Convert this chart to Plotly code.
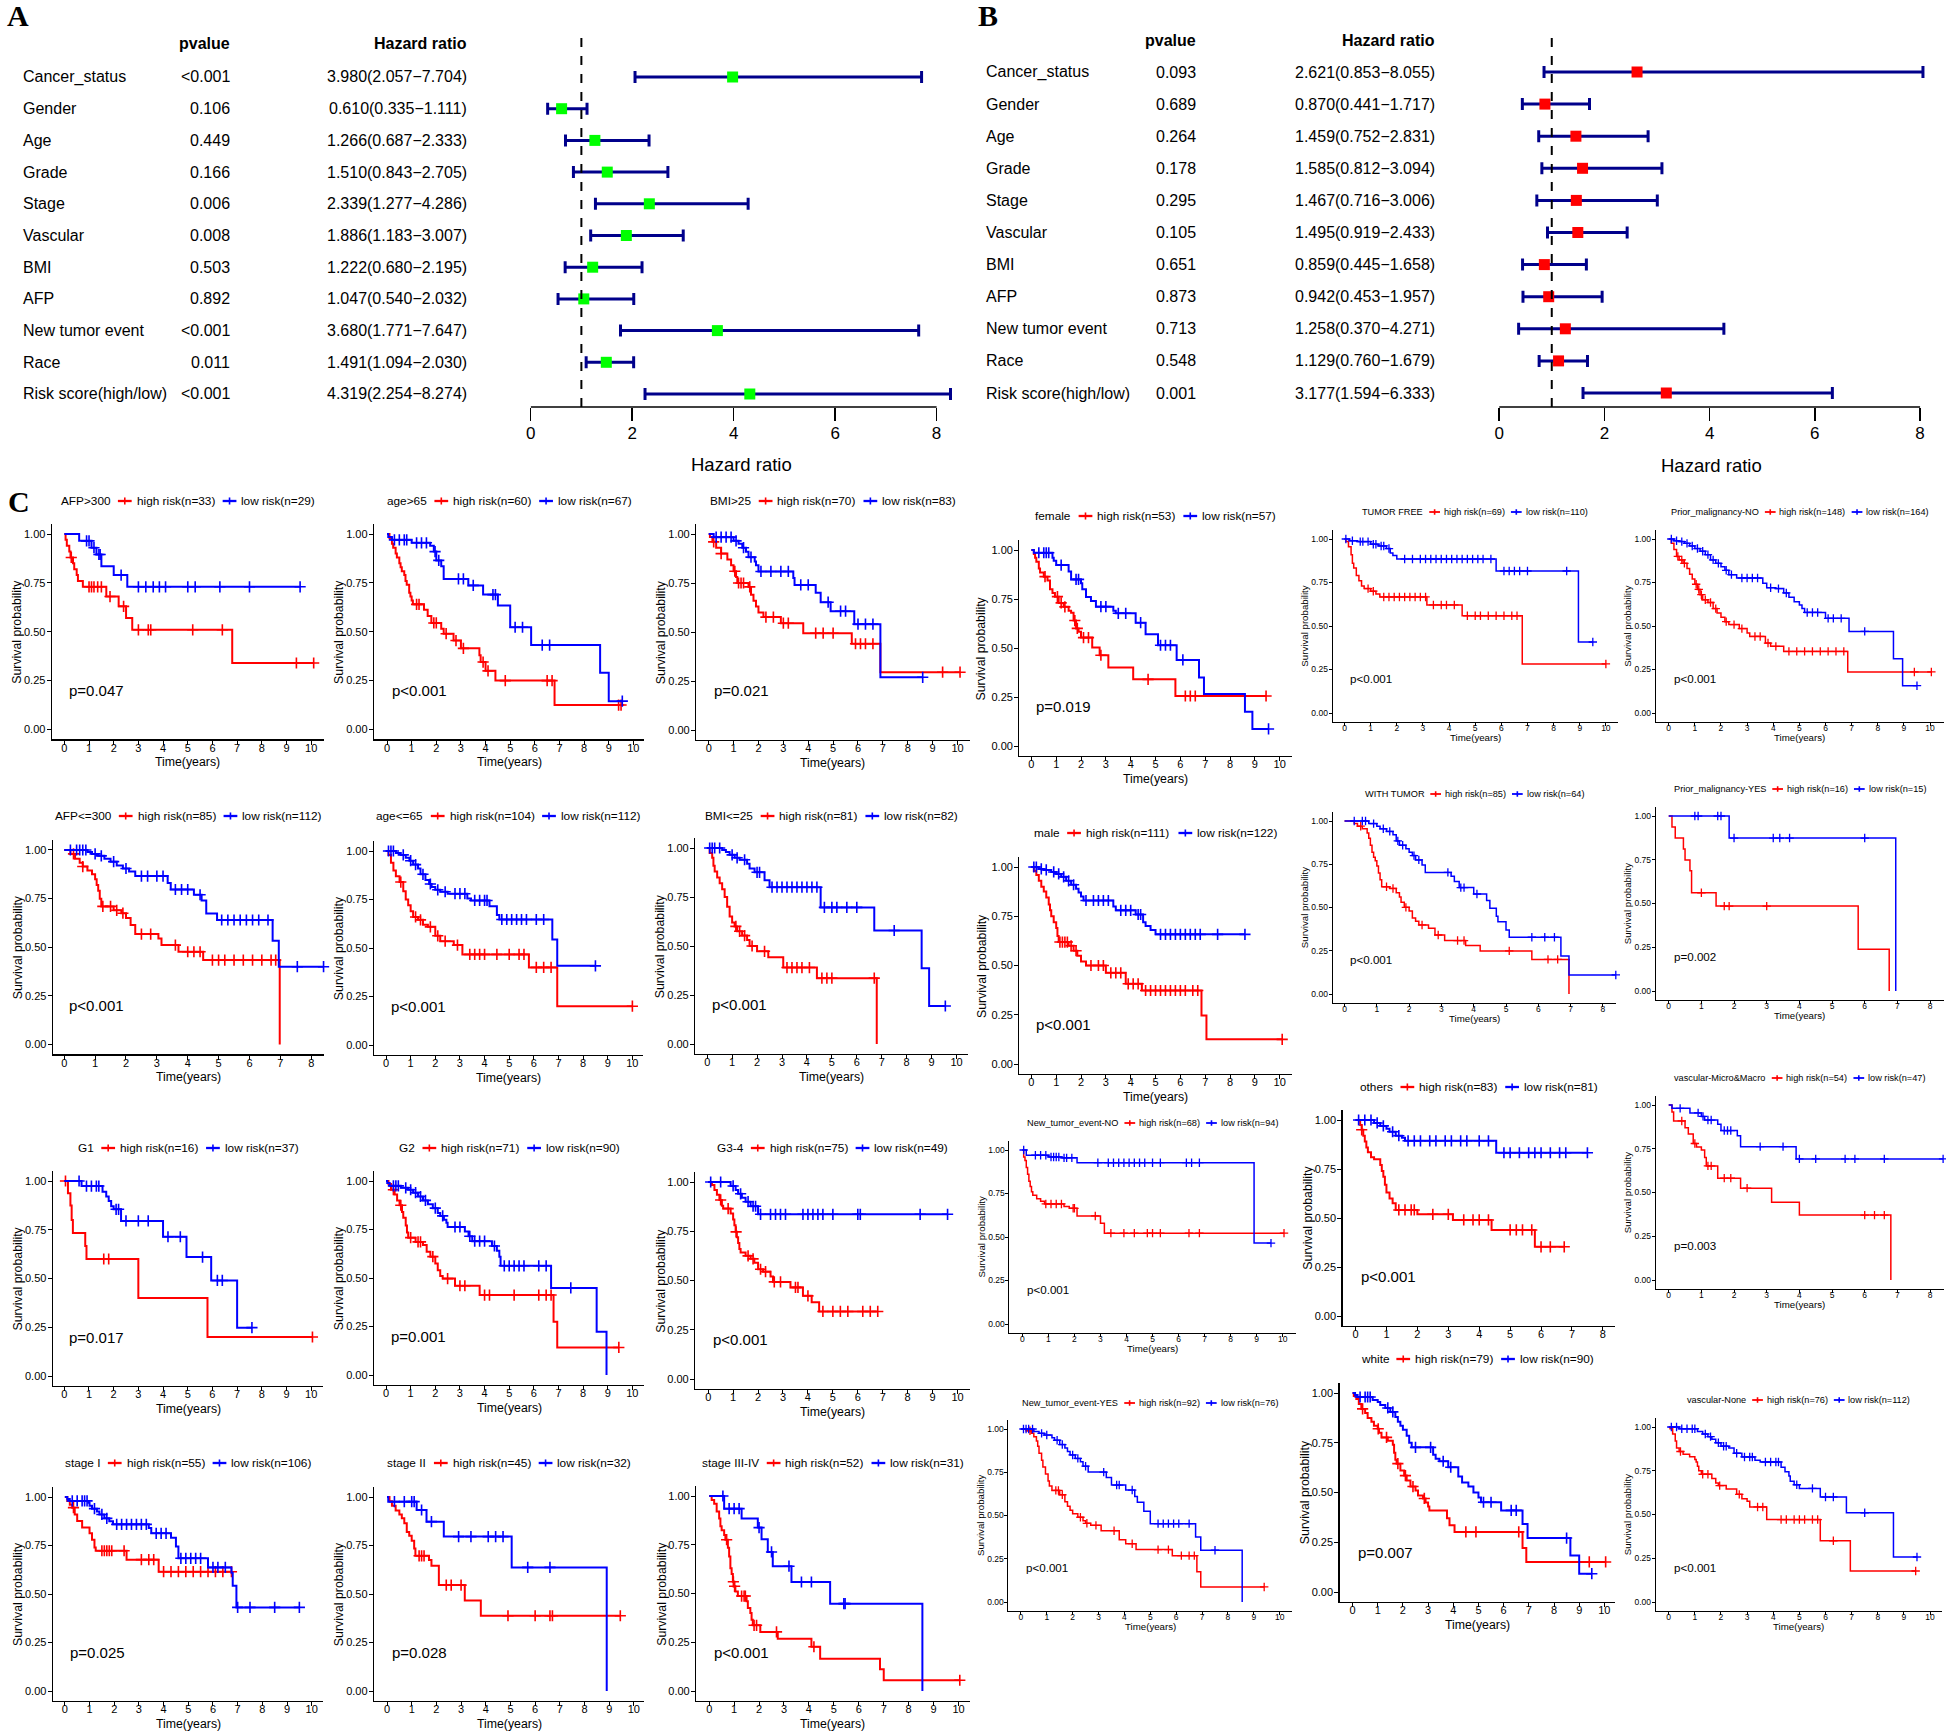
import plotly.graph_objects as go

W, H = 1946, 1732
SANS = "Liberation Sans, Arial, Helvetica, sans-serif"
SERIF = "Liberation Serif, Times New Roman, Times, serif"
RED = "#FF0000"
BLUE = "#0000FF"
NAVY = "#00008B"
GREEN = "#00FF00"

# ---------------- Forest plot data ----------------
FOREST_VARS = ["Cancer_status", "Gender", "Age", "Grade", "Stage", "Vascular", "BMI", "AFP",
               "New tumor event", "Race", "Risk score(high/low)"]
A_PVAL = ["<0.001", "0.106", "0.449", "0.166", "0.006", "0.008", "0.503", "0.892", "<0.001", "0.011", "<0.001"]
A_HR = [3.980, 0.610, 1.266, 1.510, 2.339, 1.886, 1.222, 1.047, 3.680, 1.491, 4.319]
A_LO = [2.057, 0.335, 0.687, 0.843, 1.277, 1.183, 0.680, 0.540, 1.771, 1.094, 2.254]
A_HI = [7.704, 1.111, 2.333, 2.705, 4.286, 3.007, 2.195, 2.032, 7.647, 2.030, 8.274]
B_PVAL = ["0.093", "0.689", "0.264", "0.178", "0.295", "0.105", "0.651", "0.873", "0.713", "0.548", "0.001"]
B_HR = [2.621, 0.870, 1.459, 1.585, 1.467, 1.495, 0.859, 0.942, 1.258, 1.129, 3.177]
B_LO = [0.853, 0.441, 0.752, 0.812, 0.716, 0.919, 0.445, 0.453, 0.370, 0.760, 1.594]
B_HI = [8.055, 1.717, 2.831, 3.094, 3.006, 2.433, 1.658, 1.957, 4.271, 1.679, 6.333]
FOREST_TICKS = [0, 2, 4, 6, 8]
PANEL_LABELS = ["A", "B", "C"]

# ---------------- Kaplan-Meier data ----------------
KM_TITLES = ["AFP>300", "age>65", "BMI>25", "AFP<=300", "age<=65", "BMI<=25", "G1", "G2", "G3-4",
             "stage I", "stage II", "stage III-IV", "female", "male", "New_tumor_event-NO",
             "New_tumor_event-YES", "TUMOR FREE", "WITH TUMOR", "others", "white",
             "Prior_malignancy-NO", "Prior_malignancy-YES", "vascular-Micro&Macro", "vascular-None"]
KM_N_HIGH = [33, 60, 70, 85, 104, 81, 16, 71, 75, 55, 45, 52, 53, 111, 68, 92, 69, 85, 83, 79, 148, 16, 54, 76]
KM_N_LOW = [29, 67, 83, 112, 112, 82, 37, 90, 49, 106, 32, 31, 57, 122, 94, 76, 110, 64, 81, 90, 164, 15, 47, 112]
KM_PVALS = ["p=0.047", "p<0.001", "p=0.021", "p<0.001", "p<0.001", "p<0.001", "p=0.017", "p=0.001",
            "p<0.001", "p=0.025", "p=0.028", "p<0.001", "p=0.019", "p<0.001", "p<0.001", "p<0.001",
            "p<0.001", "p<0.001", "p<0.001", "p=0.007", "p<0.001", "p=0.002", "p=0.003", "p<0.001"]
KM_TICK_MAX = [10, 10, 10, 8, 10, 10, 10, 10, 10, 10, 10, 10, 10, 10, 10, 10, 10, 8, 8, 10, 10, 8, 8, 10]
# the "others" panel's x-axis title is hidden under the "white" panel in the reference
KM_SHOW_XTITLE = [True] * 18 + [False] + [True] * 5
Y_TICKS = [0, 0.25, 0.5, 0.75, 1.0]
Y_TICK_TEXT = ["0.00", "0.25", "0.50", "0.75", "1.00"]

# (time, survival after the drop) ; censor times
AFP_GT300_HI = [(0.05, 0.97), (0.1, 0.94), (0.2, 0.91), (0.25, 0.88), (0.35, 0.85), (0.4, 0.82), (0.5, 0.79),
                (0.55, 0.76), (0.75, 0.73), (1.7, 0.68), (2.2, 0.63), (2.5, 0.57), (2.75, 0.51), (6.8, 0.34)]
AFP_GT300_HI_CENS = [0.28, 1.0, 1.1, 1.2, 1.35, 1.5, 1.85, 2.4, 3.0, 3.4, 3.5, 5.2, 6.4, 9.4, 10.1]
AFP_GT300_LO = [(0.6, 0.965), (1.1, 0.93), (1.3, 0.895), (1.5, 0.835), (2.0, 0.79), (2.55, 0.73)]
AFP_GT300_LO_CENS = [0.9, 1.0, 1.2, 1.4, 1.45, 2.3, 3.0, 3.3, 3.6, 3.85, 4.1, 5.0, 5.3, 6.3, 7.5, 9.55]

AGE_GT65_HI = [(0.1, 0.98), (0.2, 0.95), (0.25, 0.93), (0.35, 0.9), (0.4, 0.88), (0.5, 0.85), (0.55, 0.83),
               (0.6, 0.81), (0.7, 0.79), (0.75, 0.76), (0.8, 0.74), (0.9, 0.70), (0.95, 0.68), (1.0, 0.66),
               (1.05, 0.64), (1.5, 0.612), (1.65, 0.58), (1.8, 0.545), (2.2, 0.515), (2.3, 0.49), (2.7, 0.455),
               (3.0, 0.415), (3.75, 0.38), (3.8, 0.345), (4.0, 0.30), (4.4, 0.25), (6.8, 0.125)]
AGE_GT65_HI_CENS = [1.2, 1.3, 1.9, 2.0, 2.4, 2.8, 3.1, 3.9, 4.1, 4.8, 6.5, 6.7, 9.4, 9.5]
AGE_GT65_LO = [(0.05, 0.985), (0.2, 0.97), (1.0, 0.955), (1.75, 0.94), (1.9, 0.91), (2.0, 0.865), (2.2, 0.835),
               (2.3, 0.77), (3.3, 0.737), (3.9, 0.69), (4.5, 0.634), (5.0, 0.523), (5.85, 0.432), (8.65, 0.29),
               (9.0, 0.145)]
AGE_GT65_LO_CENS = [0.3, 0.5, 0.7, 0.8, 1.2, 1.4, 1.6, 1.95, 2.1, 2.9, 3.1, 3.5, 4.3, 4.4, 5.2, 5.5, 6.3, 6.6, 9.55]

BMI_GT25_HI = [(0.05, 0.985), (0.15, 0.96), (0.3, 0.93), (0.5, 0.90), (0.75, 0.87), (0.9, 0.84), (1.0, 0.81),
               (1.1, 0.78), (1.15, 0.75), (1.6, 0.73), (1.7, 0.69), (1.8, 0.66), (1.9, 0.63), (2.0, 0.60),
               (2.2, 0.576), (2.9, 0.545), (3.8, 0.494), (5.75, 0.44), (6.9, 0.295)]
BMI_GT25_HI_CENS = [0.2, 0.5, 1.05, 1.2, 1.3, 1.4, 1.65, 2.3, 2.6, 3.0, 3.2, 4.3, 4.6, 5.0, 5.9, 6.1, 6.3, 6.6,
                    9.4, 10.1]
BMI_GT25_LO = [(0.2, 0.984), (1.0, 0.965), (1.2, 0.95), (1.35, 0.93), (1.5, 0.91), (1.6, 0.882), (1.85, 0.86),
               (1.9, 0.84), (2.0, 0.809), (3.4, 0.775), (3.45, 0.74), (4.3, 0.70), (4.5, 0.652), (4.9, 0.606),
               (5.85, 0.54), (6.9, 0.269)]
BMI_GT25_LO_CENS = [0.3, 0.5, 0.7, 0.9, 1.1, 1.4, 1.7, 2.1, 2.5, 2.9, 3.2, 3.7, 4.0, 4.8, 5.3, 5.5, 6.0, 6.3,
                    6.6, 8.6]

AFP_LE300_HI = [(0.2, 0.98), (0.35, 0.955), (0.5, 0.935), (0.6, 0.915), (0.75, 0.895), (0.9, 0.875), (1.0, 0.85),
                (1.05, 0.82), (1.1, 0.79), (1.15, 0.75), (1.2, 0.71), (1.6, 0.69), (1.85, 0.675), (2.0, 0.65),
                (2.15, 0.615), (2.3, 0.568), (3.05, 0.545), (3.15, 0.511), (3.7, 0.477), (4.5, 0.434),
                (6.98, 0.0)]
AFP_LE300_HI_CENS = [0.3, 0.6, 1.25, 1.5, 1.7, 1.9, 2.5, 2.8, 3.6, 4.0, 4.2, 4.4, 4.8, 5.0, 5.2, 5.5, 5.8, 6.1,
                     6.4, 6.7, 6.85]
AFP_LE300_LO = [(0.75, 0.99), (0.9, 0.98), (1.1, 0.97), (1.3, 0.955), (1.5, 0.94), (1.7, 0.92), (1.9, 0.905),
                (2.1, 0.89), (2.3, 0.866), (3.35, 0.83), (3.45, 0.797), (4.2, 0.77), (4.45, 0.74), (4.6, 0.674),
                (4.95, 0.64), (6.75, 0.533), (6.95, 0.40)]
AFP_LE300_LO_CENS = [0.2, 0.4, 0.5, 0.6, 0.7, 1.0, 1.2, 1.6, 2.0, 2.5, 2.7, 3.0, 3.2, 3.6, 3.8, 4.0, 4.4, 5.1,
                     5.3, 5.5, 5.7, 5.9, 6.1, 6.3, 6.6, 7.55, 8.4]

AGE_LE65_HI = [(0.1, 0.98), (0.2, 0.94), (0.3, 0.9), (0.4, 0.87), (0.55, 0.84), (0.7, 0.792), (0.8, 0.75),
               (0.9, 0.72), (1.0, 0.69), (1.1, 0.66), (1.3, 0.645), (1.5, 0.62), (1.7, 0.609), (2.0, 0.563),
               (2.2, 0.535), (2.75, 0.515), (3.1, 0.467), (5.8, 0.40), (6.95, 0.20)]
AGE_LE65_HI_CENS = [0.6, 1.2, 1.4, 1.8, 2.1, 2.4, 2.9, 3.4, 3.6, 3.8, 4.0, 4.5, 5.0, 5.4, 5.6, 6.1, 6.4, 6.7, 10.0]
AGE_LE65_LO = [(0.4, 0.99), (0.6, 0.98), (0.8, 0.965), (0.95, 0.95), (1.1, 0.93), (1.3, 0.91), (1.4, 0.88),
               (1.6, 0.85), (1.75, 0.83), (1.85, 0.815), (2.0, 0.80), (2.2, 0.79), (2.5, 0.78), (3.3, 0.755),
               (3.45, 0.745), (4.2, 0.715), (4.5, 0.67), (4.6, 0.647), (6.75, 0.544), (6.95, 0.408)]
AGE_LE65_LO_CENS = [0.1, 0.2, 0.3, 0.7, 1.0, 1.2, 1.5, 1.8, 2.1, 2.4, 2.8, 3.0, 3.2, 3.6, 3.8, 4.0, 4.1, 4.7,
                    4.9, 5.1, 5.3, 5.5, 5.7, 6.1, 6.4, 8.5]

BMI_LE25_HI = [(0.1, 0.975), (0.2, 0.95), (0.25, 0.91), (0.3, 0.88), (0.4, 0.85), (0.5, 0.82), (0.6, 0.79),
               (0.7, 0.75), (0.8, 0.70), (0.9, 0.65), (1.0, 0.62), (1.1, 0.60), (1.2, 0.575), (1.4, 0.553),
               (1.6, 0.53), (1.7, 0.50), (2.0, 0.473), (2.45, 0.443), (3.05, 0.39), (4.4, 0.336), (6.8, 0.0)]
BMI_LE25_HI_CENS = [1.15, 1.3, 1.5, 1.8, 2.3, 3.2, 3.4, 3.6, 3.8, 4.1, 4.6, 4.8, 5.0, 6.7]
BMI_LE25_LO = [(0.6, 0.99), (0.75, 0.98), (0.9, 0.965), (1.1, 0.95), (1.3, 0.94), (1.6, 0.92), (1.7, 0.895),
               (1.9, 0.876), (2.3, 0.835), (2.5, 0.80), (4.55, 0.697), (6.7, 0.579), (8.6, 0.387), (8.9, 0.194)]
BMI_LE25_LO_CENS = [0.1, 0.2, 0.3, 0.5, 1.0, 1.2, 1.5, 2.0, 2.1, 2.6, 2.8, 3.0, 3.2, 3.4, 3.6, 3.8, 4.0, 4.2,
                    4.4, 4.7, 5.0, 5.2, 5.6, 6.0, 7.5, 9.55]

G1_HI = [(0.15, 0.9375), (0.25, 0.875), (0.3, 0.80), (0.35, 0.733), (0.85, 0.667), (0.9, 0.60), (3.0, 0.40),
         (5.8, 0.20)]
G1_HI_CENS = [0.05, 1.6, 1.8, 10.05]
G1_LO = [(0.7, 0.974), (1.55, 0.945), (1.7, 0.92), (1.8, 0.897), (1.9, 0.87), (2.0, 0.855), (2.3, 0.795),
         (4.0, 0.714), (4.95, 0.61), (5.95, 0.49), (7.0, 0.248)]
G1_LO_CENS = [0.6, 0.9, 1.1, 1.3, 1.4, 2.1, 2.2, 2.5, 3.0, 3.4, 4.2, 4.7, 5.6, 6.2, 6.4, 7.6]

G2_HI = [(0.1, 0.985), (0.2, 0.955), (0.35, 0.93), (0.45, 0.90), (0.55, 0.875), (0.65, 0.84), (0.7, 0.81),
         (0.8, 0.77), (0.85, 0.735), (0.9, 0.708), (1.2, 0.686), (1.5, 0.67), (1.65, 0.635), (1.8, 0.61),
         (2.0, 0.575), (2.1, 0.54), (2.2, 0.51), (2.3, 0.497), (2.8, 0.46), (3.8, 0.412), (6.8, 0.274),
         (6.95, 0.142)]
G2_HI_CENS = [0.3, 0.6, 1.0, 1.3, 1.4, 1.9, 2.5, 3.0, 3.2, 4.0, 4.2, 5.2, 6.2, 6.5, 6.7, 9.45]
G2_LO = [(0.05, 0.99), (0.15, 0.975), (0.6, 0.965), (0.9, 0.955), (1.1, 0.94), (1.3, 0.92), (1.5, 0.90),
         (1.7, 0.88), (1.9, 0.86), (2.1, 0.835), (2.2, 0.82), (2.35, 0.80), (2.45, 0.785), (2.5, 0.763),
         (3.2, 0.74), (3.35, 0.715), (3.5, 0.69), (4.3, 0.665), (4.5, 0.64), (4.6, 0.61), (4.65, 0.563),
         (6.7, 0.449), (8.55, 0.223), (8.95, 0.0)]
G2_LO_CENS = [0.3, 0.4, 0.5, 0.8, 1.0, 1.2, 1.4, 1.6, 2.0, 2.3, 2.8, 3.0, 3.4, 3.6, 3.8, 4.0, 4.4, 4.8, 5.0,
              5.2, 5.4, 5.6, 6.2, 6.5, 7.5]

G34_HI = [(0.15, 0.985), (0.25, 0.96), (0.35, 0.935), (0.45, 0.909), (0.55, 0.88), (0.6, 0.865), (0.9, 0.84),
          (1.0, 0.81), (1.05, 0.78), (1.1, 0.747), (1.15, 0.72), (1.2, 0.69), (1.25, 0.66), (1.3, 0.642),
          (1.5, 0.625), (1.7, 0.61), (1.85, 0.59), (2.0, 0.557), (2.2, 0.545), (2.5, 0.52), (2.6, 0.493),
          (3.3, 0.465), (3.8, 0.422), (4.15, 0.389), (4.45, 0.343)]
G34_HI_CENS = [0.5, 0.8, 1.12, 1.6, 1.8, 2.1, 2.3, 2.65, 2.9, 3.5, 3.6, 4.0, 4.6, 5.0, 5.3, 5.6, 6.2, 6.5, 6.8]
G34_LO = [(0.9, 0.98), (1.1, 0.96), (1.2, 0.94), (1.35, 0.92), (1.5, 0.90), (1.7, 0.877), (2.0, 0.836)]
G34_LO_CENS = [0.1, 0.5, 1.0, 1.3, 1.6, 1.8, 1.9, 2.1, 2.5, 2.7, 2.9, 3.1, 3.8, 4.0, 4.2, 4.4, 4.6, 5.0, 6.0,
               6.1, 8.5, 9.6]

STAGE1_HI = [(0.1, 0.98), (0.2, 0.96), (0.3, 0.945), (0.4, 0.91), (0.5, 0.876), (0.7, 0.843), (1.0, 0.813),
             (1.1, 0.78), (1.2, 0.74), (1.25, 0.723), (2.5, 0.677), (3.8, 0.615)]
STAGE1_HI_CENS = [0.35, 1.5, 1.6, 1.7, 1.8, 1.9, 2.4, 3.1, 3.4, 3.6, 4.0, 4.3, 4.6, 4.9, 5.2, 5.5, 5.8, 6.1,
                  6.4, 6.75]
STAGE1_LO = [(0.1, 0.99), (0.2, 0.98), (0.95, 0.97), (1.0, 0.955), (1.1, 0.94), (1.3, 0.925), (1.4, 0.91),
             (1.6, 0.89), (1.8, 0.875), (1.95, 0.859), (3.4, 0.84), (3.5, 0.813), (4.3, 0.79), (4.5, 0.745),
             (4.6, 0.684), (5.8, 0.637), (6.75, 0.61), (6.8, 0.543), (6.95, 0.431)]
STAGE1_LO_CENS = [0.3, 0.5, 0.7, 0.8, 0.9, 1.2, 1.5, 1.7, 2.1, 2.3, 2.5, 2.7, 2.9, 3.1, 3.3, 3.7, 3.9, 4.1,
                  4.7, 4.9, 5.1, 5.3, 5.5, 6.0, 6.2, 6.5, 7.0, 7.5, 8.5, 9.5]

STAGE2_HI = [(0.1, 0.978), (0.2, 0.955), (0.35, 0.93), (0.5, 0.91), (0.6, 0.89), (0.7, 0.865), (0.8, 0.82),
             (0.9, 0.80), (1.0, 0.775), (1.1, 0.735), (1.15, 0.697), (1.7, 0.675), (1.8, 0.646), (2.1, 0.546),
             (3.15, 0.466), (3.8, 0.388)]
STAGE2_HI_CENS = [1.3, 1.4, 1.5, 2.4, 2.6, 3.0, 4.9, 6.0, 6.6, 6.7, 9.45]
STAGE2_LO = [(0.05, 0.976), (1.2, 0.933), (1.6, 0.873), (2.3, 0.796), (5.05, 0.637), (8.9, 0.0)]
STAGE2_LO_CENS = [0.3, 0.7, 1.0, 1.1, 1.4, 1.8, 2.9, 3.4, 4.1, 4.4, 4.7, 5.7, 6.6]

STAGE34_HI = [(0.1, 0.98), (0.2, 0.96), (0.3, 0.92), (0.4, 0.885), (0.45, 0.845), (0.5, 0.825), (0.6, 0.80),
              (0.65, 0.776), (0.75, 0.735), (0.8, 0.69), (0.85, 0.63), (0.9, 0.60), (0.95, 0.56), (1.0, 0.537),
              (1.05, 0.51), (1.15, 0.487), (1.5, 0.46), (1.55, 0.426), (1.65, 0.40), (1.7, 0.365), (1.75, 0.337),
              (2.05, 0.303), (2.75, 0.268), (4.1, 0.227), (4.45, 0.166), (6.85, 0.111), (7.0, 0.055)]
STAGE34_HI_CENS = [0.7, 0.97, 1.02, 1.3, 1.4, 1.45, 1.8, 1.9, 2.7, 4.2, 10.05]
STAGE34_LO = [(0.6, 0.935), (1.3, 0.884), (1.95, 0.838), (2.1, 0.778), (2.35, 0.713), (2.55, 0.64), (3.3, 0.559),
              (4.85, 0.448), (8.55, 0.0)]
STAGE34_LO_CENS = [0.55, 0.8, 1.0, 1.2, 2.0, 2.5, 3.2, 3.7, 4.1, 5.4, 5.45]

FEMALE_HI = [(0.1, 0.98), (0.15, 0.96), (0.2, 0.94), (0.3, 0.905), (0.35, 0.885), (0.5, 0.864), (0.65, 0.845),
             (0.75, 0.80), (0.85, 0.78), (0.95, 0.762), (1.1, 0.73), (1.3, 0.71), (1.5, 0.69), (1.6, 0.68),
             (1.7, 0.64), (1.8, 0.60), (1.9, 0.583), (2.0, 0.553), (2.45, 0.503), (2.75, 0.463), (3.1, 0.401),
             (4.1, 0.34), (5.8, 0.255)]
FEMALE_HI_CENS = [0.55, 1.05, 1.2, 1.35, 1.75, 1.85, 2.1, 2.3, 2.8, 4.7, 6.2, 6.4, 6.6, 9.45]
FEMALE_LO = [(0.1, 0.986), (0.85, 0.96), (0.9, 0.945), (1.0, 0.923), (1.5, 0.89), (1.6, 0.85), (2.0, 0.83),
             (2.05, 0.80), (2.2, 0.76), (2.4, 0.74), (2.6, 0.711), (3.3, 0.69), (3.4, 0.677), (4.2, 0.629),
             (4.6, 0.57), (5.1, 0.514), (5.85, 0.439), (6.75, 0.349), (6.95, 0.265), (8.6, 0.175), (8.9, 0.087)]
FEMALE_LO_CENS = [0.3, 0.5, 0.6, 0.7, 1.2, 1.8, 1.9, 2.8, 3.0, 3.5, 3.8, 4.4, 5.2, 5.4, 5.6, 6.1, 9.55]

MALE_HI = [(0.1, 0.98), (0.2, 0.96), (0.3, 0.93), (0.4, 0.90), (0.5, 0.875), (0.6, 0.845), (0.7, 0.81),
           (0.75, 0.78), (0.8, 0.75), (0.9, 0.72), (1.0, 0.69), (1.05, 0.65), (1.1, 0.619), (1.5, 0.60),
           (1.7, 0.575), (1.85, 0.55), (2.0, 0.52), (2.2, 0.50), (3.0, 0.463), (3.8, 0.407), (4.45, 0.373),
           (6.85, 0.246), (7.05, 0.125)]
MALE_HI_CENS = [1.15, 1.25, 1.35, 1.45, 1.6, 1.8, 2.4, 2.7, 2.9, 3.2, 3.4, 3.6, 3.9, 4.1, 4.3, 4.6, 4.8, 5.0,
                5.2, 5.4, 5.6, 5.8, 6.0, 6.2, 6.5, 6.7, 10.1]
MALE_LO = [(0.3, 0.99), (0.5, 0.985), (0.8, 0.975), (1.0, 0.965), (1.2, 0.95), (1.4, 0.93), (1.6, 0.91),
           (1.8, 0.89), (1.9, 0.87), (2.0, 0.85), (2.1, 0.83), (3.3, 0.80), (3.4, 0.78), (4.2, 0.759),
           (4.5, 0.72), (4.6, 0.70), (4.8, 0.68), (5.0, 0.658)]
MALE_LO_CENS = [0.1, 0.2, 0.4, 0.6, 0.9, 1.1, 1.3, 1.5, 1.7, 2.2, 2.5, 2.7, 2.9, 3.1, 3.6, 3.8, 4.0, 4.3, 4.4,
                5.2, 5.4, 5.6, 5.8, 6.0, 6.2, 6.4, 6.6, 6.8, 7.5, 8.6]

NTE_NO_HI = [(0.05, 0.96), (0.1, 0.94), (0.15, 0.90), (0.2, 0.86), (0.25, 0.82), (0.3, 0.79), (0.35, 0.76),
             (0.4, 0.74), (0.55, 0.72), (0.7, 0.705), (0.85, 0.69), (1.6, 0.675), (1.8, 0.665), (2.1, 0.621),
             (3.0, 0.579), (3.15, 0.522)]
NTE_NO_HI_CENS = [0.9, 1.1, 1.3, 1.5, 1.95, 2.0, 2.8, 3.4, 3.9, 4.3, 4.8, 5.0, 5.3, 6.4, 6.8, 10.05]
NTE_NO_LO = [(0.15, 0.97), (1.0, 0.96), (1.5, 0.955), (2.1, 0.927), (8.9, 0.465)]
NTE_NO_LO_CENS = [0.05, 0.5, 0.7, 0.9, 1.1, 1.2, 1.3, 1.4, 1.6, 1.7, 1.9, 2.9, 3.3, 3.5, 3.7, 3.9, 4.1, 4.3,
                  4.5, 4.7, 5.0, 5.3, 6.3, 6.5, 6.8, 9.55]

NTE_YES_HI = [(0.2, 0.99), (0.4, 0.975), (0.5, 0.955), (0.6, 0.93), (0.65, 0.90), (0.7, 0.86), (0.8, 0.82),
              (0.85, 0.78), (0.95, 0.74), (1.05, 0.70), (1.1, 0.67), (1.2, 0.645), (1.5, 0.62), (1.7, 0.58),
              (1.8, 0.553), (1.9, 0.53), (2.0, 0.51), (2.2, 0.49), (2.4, 0.47), (2.5, 0.455), (2.7, 0.443),
              (3.1, 0.412), (3.8, 0.36), (4.05, 0.337), (4.45, 0.303), (5.85, 0.268), (6.8, 0.175), (6.95, 0.087)]
NTE_YES_HI_CENS = [0.35, 1.35, 1.45, 1.6, 2.3, 2.55, 2.9, 3.6, 4.3, 5.3, 5.7, 6.2, 6.5, 6.7, 9.4]
NTE_YES_LO = [(0.5, 0.985), (0.7, 0.975), (0.9, 0.965), (1.2, 0.95), (1.3, 0.935), (1.5, 0.91), (1.7, 0.89),
              (1.8, 0.87), (1.9, 0.85), (2.1, 0.83), (2.3, 0.81), (2.4, 0.785), (2.6, 0.751), (3.3, 0.72),
              (3.5, 0.676), (4.05, 0.647), (4.4, 0.61), (4.5, 0.576), (4.75, 0.524), (5.0, 0.453), (6.75, 0.376),
              (6.95, 0.299), (8.55, 0.0)]
NTE_YES_LO_CENS = [0.1, 0.2, 0.3, 0.45, 0.8, 1.0, 1.4, 1.6, 2.0, 2.2, 2.5, 3.2, 3.7, 3.8, 4.3, 5.3, 5.5, 5.7,
                   5.9, 6.1, 6.5, 7.5]

TFREE_HI = [(0.05, 0.985), (0.15, 0.955), (0.25, 0.91), (0.3, 0.86), (0.35, 0.833), (0.45, 0.79), (0.55, 0.76),
            (0.65, 0.73), (0.75, 0.715), (1.0, 0.70), (1.2, 0.684), (1.35, 0.667), (3.15, 0.621), (4.5, 0.559),
            (6.8, 0.282)]
TFREE_HI_CENS = [0.9, 1.1, 1.5, 1.7, 1.9, 2.1, 2.3, 2.5, 2.7, 2.9, 3.1, 3.4, 3.7, 3.9, 4.2, 4.7, 5.0, 5.2, 5.5,
                 5.8, 6.1, 6.4, 6.6, 10.0]
TFREE_LO = [(0.2, 0.99), (0.5, 0.985), (1.0, 0.97), (1.3, 0.96), (1.6, 0.945), (1.75, 0.92), (1.85, 0.905),
            (2.0, 0.885), (5.8, 0.816), (8.95, 0.408)]
TFREE_LO_CENS = [0.05, 0.3, 0.6, 0.7, 0.9, 1.1, 1.2, 1.4, 1.5, 1.7, 2.3, 2.6, 2.9, 3.1, 3.3, 3.5, 3.7, 3.9, 4.1,
                 4.3, 4.5, 4.7, 4.9, 5.1, 5.3, 5.6, 6.1, 6.3, 6.5, 6.7, 7.0, 8.5, 9.5]

WTUMOR_HI = [(0.3, 0.985), (0.4, 0.97), (0.55, 0.955), (0.7, 0.93), (0.75, 0.90), (0.8, 0.86), (0.85, 0.82),
             (0.9, 0.79), (0.95, 0.77), (1.0, 0.74), (1.05, 0.70), (1.1, 0.66), (1.15, 0.62), (1.4, 0.61),
             (1.6, 0.585), (1.7, 0.56), (1.75, 0.53), (1.85, 0.501), (2.0, 0.48), (2.1, 0.44), (2.2, 0.42),
             (2.3, 0.399), (2.6, 0.38), (2.8, 0.341), (3.1, 0.309), (3.75, 0.28), (4.2, 0.249), (5.8, 0.20),
             (6.95, 0.0)]
WTUMOR_HI_CENS = [0.5, 1.3, 1.5, 1.9, 2.4, 2.9, 3.5, 3.7, 5.1, 6.3, 6.6]
WTUMOR_LO = [(0.75, 0.985), (1.0, 0.97), (1.1, 0.955), (1.3, 0.94), (1.5, 0.92), (1.6, 0.885), (1.7, 0.86),
             (1.9, 0.84), (2.0, 0.82), (2.1, 0.80), (2.2, 0.775), (2.4, 0.745), (2.5, 0.703), (3.3, 0.68),
             (3.4, 0.65), (3.55, 0.615), (4.0, 0.578), (4.4, 0.54), (4.5, 0.495), (4.7, 0.45), (4.75, 0.418),
             (5.0, 0.37), (5.1, 0.328), (6.7, 0.22), (6.95, 0.11)]
WTUMOR_LO_CENS = [0.3, 0.55, 0.65, 0.9, 1.2, 1.4, 1.65, 1.8, 2.15, 2.3, 3.2, 3.6, 3.7, 4.1, 5.8, 6.2, 6.5, 8.4]

OTHERS_HI = [(0.15, 0.975), (0.2, 0.95), (0.25, 0.92), (0.3, 0.89), (0.35, 0.86), (0.4, 0.835), (0.5, 0.81),
             (0.6, 0.80), (0.8, 0.77), (0.85, 0.74), (0.9, 0.71), (0.95, 0.67), (1.0, 0.63), (1.1, 0.60),
             (1.2, 0.575), (1.3, 0.541), (2.0, 0.519), (3.15, 0.49), (4.4, 0.439), (5.8, 0.353)]
OTHERS_HI_CENS = [0.2, 1.4, 1.6, 1.8, 1.9, 2.5, 3.0, 3.5, 3.8, 4.0, 4.3, 5.0, 5.2, 5.4, 5.7, 6.0, 6.3, 6.75]
OTHERS_LO = [(0.6, 0.985), (0.8, 0.97), (1.0, 0.955), (1.1, 0.94), (1.3, 0.92), (1.5, 0.91), (1.6, 0.894),
             (4.55, 0.833)]
OTHERS_LO_CENS = [0.1, 0.3, 0.5, 0.7, 0.9, 1.2, 1.4, 1.7, 1.9, 2.1, 2.4, 2.6, 2.9, 3.1, 3.4, 3.6, 4.0, 4.3,
                  4.8, 5.0, 5.3, 5.6, 5.8, 6.0, 6.3, 6.6, 6.8, 7.5]

WHITE_HI = [(0.05, 0.985), (0.15, 0.97), (0.25, 0.945), (0.35, 0.92), (0.5, 0.90), (0.6, 0.875), (0.75, 0.855),
            (0.85, 0.835), (1.0, 0.82), (1.05, 0.80), (1.15, 0.777), (1.4, 0.76), (1.6, 0.74), (1.65, 0.70),
            (1.7, 0.665), (1.75, 0.645), (1.9, 0.61), (2.05, 0.585), (2.15, 0.56), (2.3, 0.53), (2.5, 0.51),
            (2.6, 0.485), (2.8, 0.47), (2.9, 0.45), (3.0, 0.43), (3.05, 0.409), (3.75, 0.37), (3.85, 0.335),
            (4.05, 0.302), (6.75, 0.221), (6.9, 0.151)]
WHITE_HI_CENS = [0.4, 1.02, 1.35, 1.8, 2.1, 2.4, 2.85, 4.5, 4.9, 6.6, 9.4, 10.05]
WHITE_LO = [(0.1, 0.99), (0.2, 0.98), (0.8, 0.965), (1.0, 0.955), (1.1, 0.94), (1.3, 0.925), (1.5, 0.905),
            (1.7, 0.88), (1.8, 0.855), (1.9, 0.835), (2.0, 0.815), (2.15, 0.785), (2.25, 0.75), (2.35, 0.727),
            (3.2, 0.69), (3.3, 0.67), (3.45, 0.657), (3.8, 0.627), (4.2, 0.58), (4.35, 0.55), (4.6, 0.53),
            (4.8, 0.50), (5.0, 0.475), (5.1, 0.451), (5.9, 0.41), (6.75, 0.342), (6.95, 0.271), (8.65, 0.183),
            (9.0, 0.092)]
WHITE_LO_CENS = [0.3, 0.5, 0.6, 0.7, 1.4, 1.6, 2.5, 3.1, 3.6, 3.9, 5.2, 5.5, 6.3, 6.5, 8.5, 9.5]

PRIOR_NO_HI = [(0.1, 0.975), (0.2, 0.94), (0.3, 0.90), (0.4, 0.88), (0.55, 0.86), (0.7, 0.83), (0.8, 0.797),
               (0.9, 0.77), (1.0, 0.74), (1.1, 0.71), (1.2, 0.68), (1.3, 0.651), (1.5, 0.635), (1.7, 0.60),
               (1.85, 0.575), (2.0, 0.55), (2.15, 0.525), (2.3, 0.508), (2.7, 0.485), (3.0, 0.46), (3.1, 0.44),
               (3.7, 0.402), (3.9, 0.383), (4.4, 0.354), (6.85, 0.236)]
PRIOR_NO_HI_CENS = [0.35, 0.5, 0.6, 1.05, 1.15, 1.25, 1.4, 1.6, 1.8, 2.2, 2.5, 2.8, 3.3, 3.5, 3.8, 4.1, 4.6,
                    4.9, 5.2, 5.5, 5.8, 6.1, 6.4, 6.7, 9.4, 10.05]
PRIOR_NO_LO = [(0.2, 0.99), (0.4, 0.985), (0.6, 0.975), (0.8, 0.96), (1.0, 0.945), (1.2, 0.93), (1.4, 0.91),
               (1.6, 0.88), (1.8, 0.86), (2.0, 0.84), (2.15, 0.82), (2.3, 0.795), (2.6, 0.776), (3.6, 0.745),
               (3.75, 0.72), (4.1, 0.715), (4.4, 0.69), (4.6, 0.665), (4.8, 0.64), (5.0, 0.62), (5.1, 0.60),
               (5.2, 0.578), (6.0, 0.544), (6.9, 0.469), (8.6, 0.312), (8.95, 0.157)]
PRIOR_NO_LO_CENS = [0.1, 0.3, 0.5, 0.7, 0.9, 1.1, 1.3, 1.5, 1.7, 1.9, 2.2, 2.4, 2.8, 3.0, 3.2, 3.4, 3.9, 4.2,
                    4.5, 5.3, 5.5, 5.7, 6.1, 6.3, 6.6, 7.5, 9.5]

PRIOR_YES_HI = [(0.1, 0.9375), (0.2, 0.875), (0.45, 0.811), (0.5, 0.748), (0.65, 0.6875), (0.7, 0.561),
                (1.45, 0.485), (5.8, 0.239), (6.75, 0.0)]
PRIOR_YES_HI_CENS = [1.0, 1.7, 1.85, 3.0]
PRIOR_YES_LO = [(1.85, 0.874), (6.95, 0.0)]
PRIOR_YES_LO_CENS = [0.8, 0.9, 1.5, 1.6, 2.0, 3.2, 3.4, 3.7, 6.0]

VASC_MM_HI = [(0.1, 0.96), (0.15, 0.909), (0.5, 0.87), (0.6, 0.835), (0.75, 0.78), (0.85, 0.76), (1.0, 0.743),
              (1.1, 0.70), (1.15, 0.652), (1.5, 0.582), (2.2, 0.525), (3.15, 0.445), (4.0, 0.371), (6.8, 0.0)]
VASC_MM_HI_CENS = [0.4, 0.8, 1.2, 1.3, 1.7, 1.9, 2.4, 6.0, 6.3, 6.6]
VASC_MM_LO = [(0.1, 0.981), (0.65, 0.955), (1.0, 0.935), (1.1, 0.914), (1.5, 0.89), (1.6, 0.854), (2.1, 0.825),
              (2.2, 0.762), (3.9, 0.692)]
VASC_MM_LO_CENS = [0.35, 0.9, 1.05, 1.2, 1.3, 1.7, 1.8, 1.9, 2.8, 3.5, 4.0, 4.5, 5.4, 5.7, 6.6, 8.4]

VASC_NONE_HI = [(0.05, 0.99), (0.15, 0.96), (0.25, 0.92), (0.3, 0.88), (0.4, 0.86), (0.55, 0.845), (0.8, 0.83),
                (1.0, 0.815), (1.05, 0.80), (1.1, 0.775), (1.15, 0.75), (1.25, 0.73), (1.65, 0.705), (1.8, 0.68),
                (1.9, 0.665), (2.2, 0.646), (2.6, 0.615), (2.8, 0.59), (3.0, 0.575), (3.1, 0.543), (3.75, 0.471),
                (5.8, 0.35), (6.95, 0.177)]
VASC_NONE_HI_CENS = [0.45, 1.3, 1.5, 1.95, 2.7, 3.4, 3.6, 4.3, 4.5, 4.8, 5.0, 5.2, 5.5, 5.7, 6.3, 9.45]
VASC_NONE_LO = [(0.4, 0.99), (1.1, 0.975), (1.3, 0.96), (1.5, 0.945), (1.65, 0.93), (1.8, 0.91), (2.0, 0.89),
                (2.3, 0.88), (2.5, 0.85), (2.8, 0.829), (3.3, 0.81), (3.5, 0.80), (4.3, 0.77), (4.45, 0.745),
                (4.6, 0.72), (4.65, 0.69), (4.8, 0.67), (5.0, 0.649), (5.8, 0.60), (6.8, 0.51), (8.6, 0.257)]
VASC_NONE_LO_CENS = [0.1, 0.3, 0.5, 0.7, 0.9, 1.0, 1.4, 1.6, 1.9, 2.1, 2.2, 2.6, 2.9, 3.1, 3.2, 3.7, 3.9, 4.1,
                     4.2, 4.9, 5.5, 6.0, 6.3, 7.5, 9.5]

KM_CURVES = [
    (AFP_GT300_HI, AFP_GT300_HI_CENS, AFP_GT300_LO, AFP_GT300_LO_CENS),
    (AGE_GT65_HI, AGE_GT65_HI_CENS, AGE_GT65_LO, AGE_GT65_LO_CENS),
    (BMI_GT25_HI, BMI_GT25_HI_CENS, BMI_GT25_LO, BMI_GT25_LO_CENS),
    (AFP_LE300_HI, AFP_LE300_HI_CENS, AFP_LE300_LO, AFP_LE300_LO_CENS),
    (AGE_LE65_HI, AGE_LE65_HI_CENS, AGE_LE65_LO, AGE_LE65_LO_CENS),
    (BMI_LE25_HI, BMI_LE25_HI_CENS, BMI_LE25_LO, BMI_LE25_LO_CENS),
    (G1_HI, G1_HI_CENS, G1_LO, G1_LO_CENS),
    (G2_HI, G2_HI_CENS, G2_LO, G2_LO_CENS),
    (G34_HI, G34_HI_CENS, G34_LO, G34_LO_CENS),
    (STAGE1_HI, STAGE1_HI_CENS, STAGE1_LO, STAGE1_LO_CENS),
    (STAGE2_HI, STAGE2_HI_CENS, STAGE2_LO, STAGE2_LO_CENS),
    (STAGE34_HI, STAGE34_HI_CENS, STAGE34_LO, STAGE34_LO_CENS),
    (FEMALE_HI, FEMALE_HI_CENS, FEMALE_LO, FEMALE_LO_CENS),
    (MALE_HI, MALE_HI_CENS, MALE_LO, MALE_LO_CENS),
    (NTE_NO_HI, NTE_NO_HI_CENS, NTE_NO_LO, NTE_NO_LO_CENS),
    (NTE_YES_HI, NTE_YES_HI_CENS, NTE_YES_LO, NTE_YES_LO_CENS),
    (TFREE_HI, TFREE_HI_CENS, TFREE_LO, TFREE_LO_CENS),
    (WTUMOR_HI, WTUMOR_HI_CENS, WTUMOR_LO, WTUMOR_LO_CENS),
    (OTHERS_HI, OTHERS_HI_CENS, OTHERS_LO, OTHERS_LO_CENS),
    (WHITE_HI, WHITE_HI_CENS, WHITE_LO, WHITE_LO_CENS),
    (PRIOR_NO_HI, PRIOR_NO_HI_CENS, PRIOR_NO_LO, PRIOR_NO_LO_CENS),
    (PRIOR_YES_HI, PRIOR_YES_HI_CENS, PRIOR_YES_LO, PRIOR_YES_LO_CENS),
    (VASC_MM_HI, VASC_MM_HI_CENS, VASC_MM_LO, VASC_MM_LO_CENS),
    (VASC_NONE_HI, VASC_NONE_HI_CENS, VASC_NONE_LO, VASC_NONE_LO_CENS),
]

# ---------------- Layout (pixel positions in the 1946x1732 canvas) ----------------
# axL, x of t=0, x of last tick, axR, y of S=1, y of S=0, legend y, size class, survival-label offset
KM_BOX = [
    (47, 59.5, 307, 319.5, 534, 729.5, 501, "L", 35),
    (370, 383, 630, 641, 534, 729.5, 501, "L", 35),
    (693, 705.5, 955, 967, 534, 730, 501, "L", 35),
    (48, 59.4, 307, 320, 850, 1044.5, 816, "L", 35),
    (370, 382, 629, 640, 851, 1045, 816, "L", 35),
    (692, 704, 954, 965, 848, 1044, 816, "L", 35),
    (48, 59.4, 307, 319, 1181, 1376, 1148, "L", 35),
    (370, 382, 629, 641, 1181, 1375, 1148, "L", 35),
    (692, 705, 955, 967, 1182, 1379, 1148, "L", 35),
    (48, 60, 307.5, 319, 1497, 1691, 1463, "L", 35),
    (370, 383, 630.5, 641, 1497, 1691, 1463, "L", 35),
    (693, 706, 956, 967, 1496, 1691, 1463, "L", 35),
    (1017, 1029, 1278, 1290, 550, 746, 516, "L", 38),
    (1017, 1029, 1278, 1290, 867, 1064, 833, "L", 38),
    (1007, 1020, 1281, 1294, 1150, 1324, 1123, "S", 28),
    (1006, 1018.5, 1278, 1290, 1429, 1602, 1403, "S", 28),
    (1331, 1343, 1605, 1617, 539, 713, 512, "S", 28),
    (1331, 1343, 1602, 1615, 821, 994, 794, "S", 28),
    (1341, 1354, 1602, 1614, 1120, 1316, 1087, "L", 35),
    (1338, 1351, 1603.5, 1614, 1393, 1592, 1359, "L", 35),
    (1655, 1668, 1930, 1944, 539, 713, 512, "S", 28),
    (1655, 1668, 1930, 1944, 816, 991, 789, "S", 28),
    (1655, 1668, 1930, 1944, 1105, 1280, 1078, "S", 28),
    (1655, 1668, 1930, 1942, 1427, 1602, 1400, "S", 28),
]
SIZES = {
    "L": dict(leg=11.8, tick=11, title=12.3, p=15, lw=2.0, cross=8, cw=1.6, axw=1.3, tl=4, toff=23, xso=-6),
    "S": dict(leg=9.2, tick=8.5, title=9.7, p=11.6, lw=1.5, cross=6, cw=1.3, axw=1.0, tl=3, toff=16, xso=-5),
}
FOREST_BOX = [
    dict(x0=527, unit=50.875, xmax=8.4, top=38, bottom=407, row0=77, step=31.7, lab=18, pv=226, hr=463,
         hdr=44, title=(738, 465), letter=(2, 15)),
    dict(x0=1498, unit=52.75, xmax=8.3, top=33, bottom=407, row0=72, step=32.1, lab=984, pv=1194, hr=1434,
         hdr=40, title=(1711, 466), letter=(976, 15)),
]

# Arial / Liberation Sans advance widths (1/1000 em)
CW = {' ': 278, '(': 333, ')': 333, '+': 584, '-': 333, '.': 278, '<': 584, '=': 584, '>': 584, '&': 667, '_': 556}
for _c in '0123456789':
    CW[_c] = 556
CW.update(dict(A=667, B=667, C=722, D=722, E=667, F=611, G=778, H=722, I=278, J=500, K=667, L=556, M=833,
               N=722, O=778, P=667, Q=778, R=722, S=667, T=611, U=722, V=667, W=944, X=667, Y=667, Z=611))
CW.update(dict(a=556, b=556, c=500, d=556, e=556, f=278, g=556, h=556, i=222, j=222, k=500, l=222, m=833,
               n=556, o=556, p=556, q=556, r=333, s=500, t=278, u=556, v=500, w=722, x=500, y=500, z=500))


def tw(s, size):
    return sum(CW.get(c, 556) for c in s) / 1000.0 * size


def PX(p):
    return p / W


def PY(p):
    return 1 - p / H


def surv_at(steps, t):
    s = 1.0
    for tt, ss in steps:
        if tt <= t:
            s = ss
        else:
            break
    return s


fig = go.Figure()
annotations = []
shapes = []
layout = {}


def ann(text, x, y, size, xanchor="left", yanchor="middle", xref="paper", yref="paper", bold=False,
        family=SANS, angle=0, color="black"):
    annotations.append(dict(text=("<b>%s</b>" % text) if bold else text, x=x, y=y, xref=xref, yref=yref,
                            xanchor=xanchor, yanchor=yanchor, showarrow=False, textangle=angle,
                            font=dict(size=size, family=family, color=color), borderpad=0, borderwidth=0))


# ---------------- Forest plots ----------------
for fi, (pv, hr, lo, hi, col) in enumerate([(A_PVAL, A_HR, A_LO, A_HI, GREEN), (B_PVAL, B_HR, B_LO, B_HI, RED)]):
    bx = FOREST_BOX[fi]
    k = "" if fi == 0 else "2"
    rows = list(range(len(FOREST_VARS)))
    y_bot = 10 + (bx["bottom"] - (bx["row0"] + 10 * bx["step"])) / bx["step"]
    y_top = -(bx["row0"] - bx["top"]) / bx["step"]
    layout["xaxis" + k] = dict(domain=[PX(bx["x0"]), PX(bx["x0"] + bx["unit"] * bx["xmax"])],
                               range=[0, bx["xmax"]], anchor="y" + k, showline=False, showgrid=False,
                               zeroline=False, ticks="outside", ticklen=13, tickwidth=1.5, tickcolor="black",
                               tickvals=FOREST_TICKS, tickfont=dict(size=17, family=SANS, color="black"),
                               ticklabelstandoff=-2)
    layout["yaxis" + k] = dict(domain=[PY(bx["bottom"]), PY(bx["top"])], range=[y_bot, y_top],
                               anchor="x" + k, visible=False)
    fig.add_trace(go.Scatter(
        x=hr, y=rows, mode="markers", xaxis="x" + k, yaxis="y" + k,
        marker=dict(symbol="square", size=11, color=col, line=dict(width=0)),
        error_x=dict(type="data", symmetric=False, array=[h - r for h, r in zip(hi, hr)],
                     arrayminus=[r - l for r, l in zip(hr, lo)], color=NAVY, thickness=3, width=6),
        cliponaxis=False, showlegend=False, hoverinfo="skip"))
    # axis line 0..8 and reference line at HR = 1
    shapes.append(dict(type="line", xref="x" + k, yref="y%s domain" % k, x0=0, x1=FOREST_TICKS[-1], y0=0, y1=0,
                       line=dict(color="black", width=1.5)))
    shapes.append(dict(type="line", xref="x" + k, yref="y%s domain" % k, x0=1, x1=1, y0=0, y1=1,
                       line=dict(color="black", width=2, dash="dash")))
    ann("pvalue", PX(bx["pv"]), -(bx["row0"] - bx["hdr"]) / bx["step"], 16, xanchor="right", yref="y" + k,
        bold=True)
    ann("Hazard ratio", PX(bx["hr"]), -(bx["row0"] - bx["hdr"]) / bx["step"], 16, xanchor="right",
        yref="y" + k, bold=True)
    for r in rows:
        ann(FOREST_VARS[r], PX(bx["lab"]), r, 16, yref="y" + k)
        ann(pv[r], PX(bx["pv"]), r, 16, xanchor="right", yref="y" + k)
        ann("%.3f(%.3f\u2212%.3f)" % (hr[r], lo[r], hi[r]), PX(bx["hr"]), r, 16, xanchor="right", yref="y" + k)
    ann("Hazard ratio", PX(bx["title"][0]), PY(bx["title"][1]), 18.5, xanchor="center")
    ann(PANEL_LABELS[fi], PX(bx["letter"][0]), PY(bx["letter"][1]), 30, bold=True, family=SERIF)

ann(PANEL_LABELS[2], PX(3), PY(501), 30, bold=True, family=SERIF)

# ---------------- Kaplan-Meier plots ----------------
for i in range(len(KM_TITLES)):
    hi_s, hi_c, lo_s, lo_c = KM_CURVES[i]
    axL, x0, xT, axR, y1, y0, legY, cls, soff = KM_BOX[i]
    sz = SIZES[cls]
    T = KM_TICK_MAX[i]
    u = (xT - x0) / T
    ext = 0.05 * (y0 - y1)
    top, bot = y1 - ext, y0 + ext
    k = str(i + 3)
    tickfont = dict(size=sz["tick"], family=SANS, color="black")
    common = dict(showline=True, linecolor="black", linewidth=sz["axw"], ticks="outside", ticklen=sz["tl"],
                  tickwidth=1, tickcolor="black", showgrid=False, zeroline=False, tickfont=tickfont,
                  fixedrange=True)
    layout["xaxis" + k] = dict(domain=[PX(axL), PX(axR)], range=[(axL - x0) / u, (axR - x0) / u],
                               anchor="y" + k, tickvals=list(range(T + 1)), ticklabelstandoff=sz["xso"],
                               **common)
    layout["yaxis" + k] = dict(domain=[PY(bot), PY(top)], range=[-0.05, 1.05], anchor="x" + k,
                               tickvals=Y_TICKS, ticktext=Y_TICK_TEXT, ticklabelstandoff=-1, **common)
    for steps, cens, col in ((hi_s, hi_c, RED), (lo_s, lo_c, BLUE)):
        end = max(list(cens) + [t for t, _ in steps])
        xs = [0.0] + [t for t, _ in steps]
        ys = [1.0] + [s for _, s in steps]
        if xs[-1] < end:
            xs.append(end)
            ys.append(ys[-1])
        fig.add_trace(go.Scatter(x=xs, y=ys, mode="lines", line=dict(color=col, width=sz["lw"], shape="hv"),
                                 xaxis="x" + k, yaxis="y" + k, showlegend=False, hoverinfo="skip"))
        fig.add_trace(go.Scatter(x=cens, y=[surv_at(steps, c) for c in cens], mode="markers",
                                 marker=dict(symbol="cross-thin", size=sz["cross"], color=col,
                                             line=dict(color=col, width=sz["cw"])),
                                 xaxis="x" + k, yaxis="y" + k, showlegend=False, hoverinfo="skip",
                                 cliponaxis=False))
    # axis titles and p-value
    if KM_SHOW_XTITLE[i]:
        ann("Time(years)", PX((axL + axR) / 2), PY(bot + sz["toff"]), sz["title"], xanchor="center")
    ann("Survival probability", PX(axL - soff), PY((top + bot) / 2), sz["title"], xanchor="center", angle=-90)
    ann(KM_PVALS[i], PX(x0 + 5), 0.2, sz["p"], yref="y" + k)
    # legend (title + two keyed entries), centred over the panel
    f = sz["leg"]
    title = KM_TITLES[i]
    l1 = "high risk(n=%d)" % KM_N_HIGH[i]
    l2 = "low risk(n=%d)" % KM_N_LOW[i]
    g_tk, klen, g_kt = 0.67 * f, 1.17 * f, 0.42 * f
    total = tw(title, f) + tw(l1, f) + tw(l2, f) + 2 * (g_tk + klen + g_kt)
    x = (axL + axR) / 2 - total / 2
    ann(title, PX(x), PY(legY), f)
    x += tw(title, f) + g_tk
    for lab, col in ((l1, RED), (l2, BLUE)):
        shapes.append(dict(type="line", xref="paper", yref="paper", x0=PX(x), x1=PX(x + klen), y0=PY(legY),
                           y1=PY(legY), line=dict(color=col, width=sz["lw"] + 0.3)))
        shapes.append(dict(type="line", xref="paper", yref="paper", x0=PX(x + klen / 2), x1=PX(x + klen / 2),
                           y0=PY(legY - 0.3 * f), y1=PY(legY + 0.3 * f), line=dict(color=col, width=1.6)))
        x += klen + g_kt
        ann(lab, PX(x), PY(legY), f)
        x += tw(lab, f) + g_tk

fig.update_layout(width=W, height=H, margin=dict(l=0, r=0, t=0, b=0), paper_bgcolor="white",
                  plot_bgcolor="rgba(0,0,0,0)", showlegend=False, annotations=annotations, shapes=shapes,
                  font=dict(family=SANS, color="black"), **layout)
fig.write_html("out.html", config={"displayModeBar": False, "staticPlot": True},
               post_script="document.body.style.margin='0px';document.body.style.padding='0px';")
